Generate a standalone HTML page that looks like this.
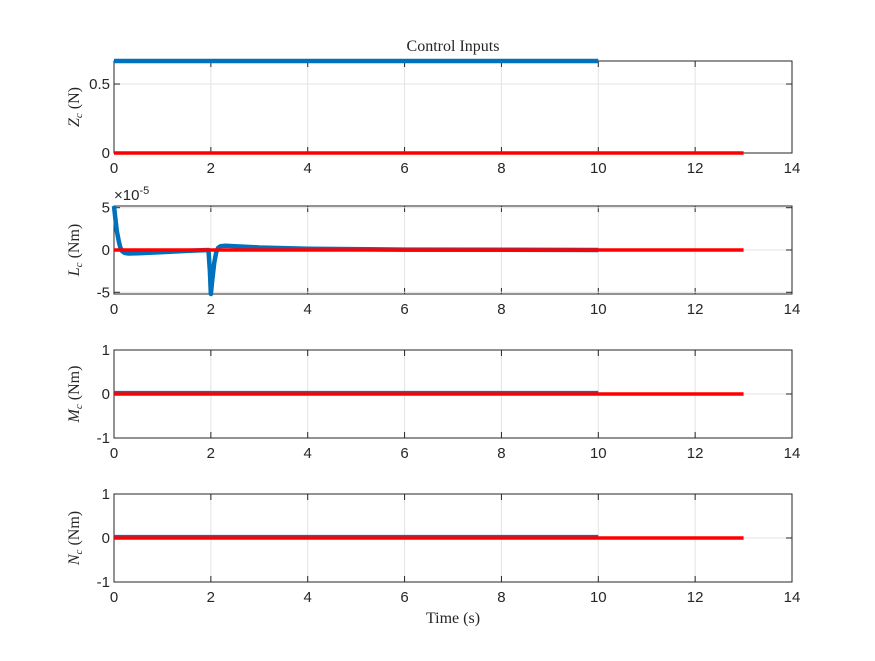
<!DOCTYPE html>
<html><head><meta charset="utf-8"><style>
body{margin:0;background:#fff}
text{font-family:"Liberation Sans",sans-serif;font-size:15px;fill:#262626}
.serif{font-family:"Liberation Serif",serif;font-size:16px}
</style></head><body>
<svg id="c" width="875" height="656"></svg>
<script>
const xTicks=[0,2,4,6,8,10,12,14];
const zBlueT=[0,10], zBlueV=[0.667,0.667];
const redT=[0,13], redV=[0,0];
const lBlueT=[0,0.03,0.06,0.1,0.13,0.17,0.22,0.3,0.5,1,1.5,1.95,1.98,2.0,2.03,2.07,2.11,2.15,2.2,2.3,2.5,3,4,6,10];
const lBlueV=[5.2,3.6,2.2,1.0,0.3,-0.15,-0.35,-0.42,-0.38,-0.25,-0.1,0,-2.5,-5.2,-3.5,-1.5,-0.3,0.25,0.45,0.5,0.45,0.3,0.15,0.05,0];
const mBlueT=[0,10], mBlueV=[0.02,0.02];
const nBlueT=[0,10], nBlueV=[0.02,0.02];
const panels=[
 {name:'zc',top:61,bot:153,ymin:0,ymax:0.667,ticks:[0,0.5],tl:['0','0.5'],label:'Z',unit:'(N)',bt:zBlueT,bv:zBlueV},
 {name:'lc',top:206,bot:294,ymin:-5.2,ymax:5.2,ticks:[-5,0,5],tl:['-5','0','5'],label:'L',unit:'(Nm)',bt:lBlueT,bv:lBlueV},
 {name:'mc',top:350,bot:438,ymin:-1,ymax:1,ticks:[-1,0,1],tl:['-1','0','1'],label:'M',unit:'(Nm)',bt:mBlueT,bv:mBlueV},
 {name:'nc',top:494,bot:582,ymin:-1,ymax:1,ticks:[-1,0,1],tl:['-1','0','1'],label:'N',unit:'(Nm)',bt:nBlueT,bv:nBlueV}
];
const svg=document.getElementById('c'),NS='http://www.w3.org/2000/svg';
const L=114,R=792;
function el(t,a,p){const e=document.createElementNS(NS,t);for(const k in a)e.setAttribute(k,a[k]);(p||svg).appendChild(e);return e;}
const xs=v=>L+(v-0)/(14-0)*(R-L);
panels.forEach(p=>{
 const ys=v=>p.bot-(v-p.ymin)/(p.ymax-p.ymin)*(p.bot-p.top);
 const g=el('g',{});
 
 
 xTicks.forEach(t=>{
  el('line',{x1:xs(t),x2:xs(t),y1:p.top,y2:p.bot,stroke:'#e3e3e3','stroke-width':1},g);
  el('line',{x1:xs(t),x2:xs(t),y1:p.bot,y2:p.bot-6,stroke:'#262626'},g);
  el('line',{x1:xs(t),x2:xs(t),y1:p.top,y2:p.top+6,stroke:'#262626'},g);
  const tx=el('text',{x:xs(t),y:p.bot+20,'text-anchor':'middle'},g);tx.textContent=t;
  
  
 });
 p.ticks.forEach((t,i)=>{
  el('line',{x1:L,x2:R,y1:ys(t),y2:ys(t),stroke:'#e3e3e3'},g);
  el('line',{x1:L,x2:L+6,y1:ys(t),y2:ys(t),stroke:'#262626'},g);
  el('line',{x1:R,x2:R-6,y1:ys(t),y2:ys(t),stroke:'#262626'},g);
  const tx=el('text',{x:L-4,y:ys(t)+5,'text-anchor':'end'},g);tx.textContent=p.tl[i];
  
  
 });
 el('rect',{x:L,y:p.top,width:R-L,height:p.bot-p.top,fill:'none',stroke:'#262626'},g);
 const bp=p.bt.map((t,i)=>xs(t)+','+ys(p.bv[i])).join(' ');
 const b=el('polyline',{points:bp,fill:'none',stroke:'#0072bd','stroke-width':4.5,'stroke-linejoin':'round'},g);
 
 
 const rp=redT.map((t,i)=>xs(t)+','+ys(redV[i])).join(' ');
 const r=el('polyline',{points:rp,fill:'none',stroke:'#ff0000','stroke-width':3.5},g);
 
 
 const cy=(p.top+p.bot)/2;
 const yl=el('text',{class:'serif',transform:`translate(79,${cy}) rotate(-90)`,'text-anchor':'middle'},g);
 yl.innerHTML=`<tspan font-style="italic">${p.label}</tspan><tspan font-size="11" dy="3" font-style="italic">c</tspan><tspan dy="-3"> ${p.unit}</tspan>`;
 
 
});
const ex=el('text',{x:114,y:200,'font-size':'14'});ex.innerHTML='×10<tspan font-size="11" dy="-6">-5</tspan>';


const ti=el('text',{x:453,y:51,'text-anchor':'middle',class:'serif',fill:'#000'});ti.textContent='Control Inputs';


const xl=el('text',{x:453,y:623,'text-anchor':'middle',class:'serif'});xl.textContent='Time (s)';


</script>
</body></html>
